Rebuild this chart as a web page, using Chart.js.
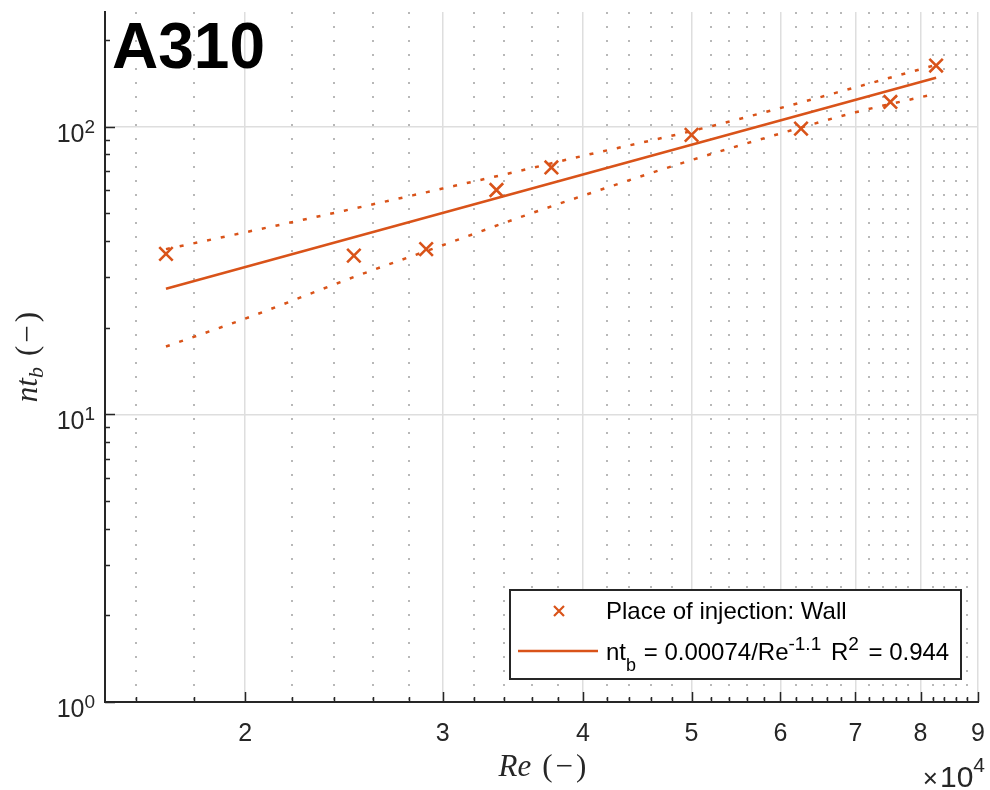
<!DOCTYPE html>
<html><head><meta charset="utf-8">
<script src="https://cdn.jsdelivr.net/npm/chart.js@4/dist/chart.umd.min.js"></script>
<style>html,body{margin:0;padding:0;background:#fff}#wrap{width:990px;height:790px;position:relative}</style>
</head><body><div id="wrap"><canvas id="c" width="990" height="790"></canvas></div>
<script>
// ---- data ----
const reValues  = [17000, 25000, 29000, 33500, 37500, 50000, 62600, 75200, 82600];
const ntbValues = [36.1, 35.6, 37.5, 60.2, 72.1, 93.6, 98.4, 121.8, 163];
const fitRe  = [17000, 82600];
const fitNtb = [27.3, 147.8];
const bandRe    = [17000, 20000, 25000, 30000, 35000, 40000, 50000, 60000, 70000, 82600];
const bandUpper = [37.5, 42.9, 51.9, 60.9, 69.9, 79.1, 96.5, 116, 136.9, 163.9];
const bandLower = [17.2, 21.5, 30.0, 38.7, 48.1, 57.5, 76.5, 94.6, 112.1, 130.1];
const xMajorTicks = [20000, 30000, 40000, 50000, 60000, 70000, 80000, 90000];
const xMinorTicks = [16000, 18000, 22000, 24000, 26000, 28000, 32000, 34000, 36000, 38000,
  42000, 44000, 46000, 48000, 52000, 54000, 56000, 58000, 62000, 64000, 66000, 68000,
  72000, 74000, 76000, 78000, 82000, 84000, 86000, 88000];
const yMajorTicks = [1, 10, 100];
const yMinorTicks = [2, 3, 4, 5, 6, 7, 8, 9, 20, 30, 40, 50, 60, 70, 80, 90, 200];
const titleText = 'A310';
const legendMarkerLabel = 'Place of injection: Wall';

const ORANGE = '#D95319';
const AXIS = '#262626';
const SANS = '"Liberation Sans", Arial, Helvetica, sans-serif';
const SERIF = '"Liberation Serif", "Times New Roman", serif';
const xTickValues = xMajorTicks.concat(xMinorTicks).sort((a, b) => a - b);
const isMajorX = v => xMajorTicks.includes(v);
const isMinorTickCtx = c => c.tick && !isMajorX(c.tick.value);

function drawRich(ctx, x, y, parts) {
  let cx = x;
  for (const p of parts) {
    ctx.font = p.font;
    ctx.fillText(p.t, cx, y + (p.dy || 0));
    cx += ctx.measureText(p.t).width + (p.gap || 0);
  }
  return cx - x;
}
function richWidth(ctx, parts) {
  let w = 0;
  for (const p of parts) { ctx.font = p.font; w += ctx.measureText(p.t).width + (p.gap || 0); }
  return w;
}

const decor = {
  id: 'decor',
  afterDraw(chart) {
    const ctx = chart.ctx;
    const xs = chart.scales.x, ys = chart.scales.y;
    const area = chart.chartArea;
    ctx.save();
    // inward tick marks
    ctx.strokeStyle = AXIS; ctx.lineWidth = 1.5;
    ctx.beginPath();
    for (const v of xTickValues) {
      const px = Math.round(xs.getPixelForValue(v)) + 0.5;
      const len = isMajorX(v) ? 10 : 5;
      ctx.moveTo(px, area.bottom); ctx.lineTo(px, area.bottom - len);
    }
    for (const v of yMajorTicks) {
      const py = Math.round(ys.getPixelForValue(v)) + 0.5;
      ctx.moveTo(area.left, py); ctx.lineTo(area.left + 10, py);
    }
    for (const v of yMinorTicks) {
      const py = Math.round(ys.getPixelForValue(v)) + 0.5;
      ctx.moveTo(area.left, py); ctx.lineTo(area.left + 5, py);
    }
    ctx.stroke();

    // y tick labels 10^n
    ctx.fillStyle = AXIS; ctx.textBaseline = 'alphabetic'; ctx.textAlign = 'left';
    for (const v of yMajorTicks) {
      const py = ys.getPixelForValue(v);
      const parts = [{t: '10', font: '25px ' + SANS}, {t: String(Math.round(Math.log10(v))), font: '19px ' + SANS, dy: -9}];
      const w = richWidth(ctx, parts);
      drawRich(ctx, 95 - w, py + 15, parts);
    }

    // x10^4 multiplier
    {
      const parts = [{t: '\u00d7', font: '26px ' + SANS, gap: 2}, {t: '10', font: '30px ' + SANS}, {t: '4', font: '21px ' + SANS, dy: -15}];
      const w = richWidth(ctx, parts);
      drawRich(ctx, 985 - w, 787, parts);
    }

    // x axis label
    {
      const parts = [{t: 'Re', font: 'italic 31px ' + SERIF, gap: 11}, {t: '(', font: '31px ' + SERIF, gap: 3}, {t: '\u2212', font: '31px ' + SERIF, gap: 3}, {t: ')', font: '31px ' + SERIF}];
      const w = richWidth(ctx, parts);
      drawRich(ctx, (area.left + area.right) / 2 - w / 2 + 1, 776, parts);
    }
    // y axis label (rotated)
    {
      ctx.save();
      ctx.translate(37, (area.top + area.bottom) / 2);
      ctx.rotate(-Math.PI / 2);
      const parts = [{t: 'nt', font: 'italic 31px ' + SERIF}, {t: 'b', font: 'italic 22px ' + SERIF, dy: 6, gap: 11}, {t: '(', font: '31px ' + SERIF, gap: 3}, {t: '\u2212', font: '31px ' + SERIF, gap: 3}, {t: ')', font: '31px ' + SERIF}];
      const w = richWidth(ctx, parts);
      drawRich(ctx, -w / 2, 0, parts);
      ctx.restore();
    }

    // panel title
    ctx.fillStyle = '#000';
    ctx.font = 'bold 64px ' + SANS;
    ctx.fillText(titleText, 112, 68);

    // legend
    const lx = 510, ly = 590, lw = 451, lh = 89;
    ctx.fillStyle = '#fff';
    ctx.fillRect(lx, ly, lw, lh);
    ctx.strokeStyle = AXIS; ctx.lineWidth = 2;
    ctx.strokeRect(lx, ly, lw, lh);
    // marker entry
    ctx.strokeStyle = ORANGE; ctx.lineWidth = 2.2;
    ctx.beginPath();
    ctx.moveTo(559 - 5, 611 - 5); ctx.lineTo(559 + 5, 611 + 5);
    ctx.moveTo(559 - 5, 611 + 5); ctx.lineTo(559 + 5, 611 - 5);
    ctx.stroke();
    ctx.fillStyle = '#000';
    ctx.font = '24px ' + SANS;
    ctx.fillText(legendMarkerLabel, 606, 619);
    // line entry
    ctx.strokeStyle = ORANGE; ctx.lineWidth = 2.5;
    ctx.beginPath(); ctx.moveTo(518, 651); ctx.lineTo(598, 651); ctx.stroke();
    ctx.fillStyle = '#000';
    drawRich(ctx, 606, 660, [
      {t: 'nt', font: '24px ' + SANS},
      {t: 'b', font: '18px ' + SANS, dy: 11, gap: 1},
      {t: ' = 0.00074/Re', font: '24px ' + SANS},
      {t: '-1.1', font: '19px ' + SANS, dy: -10, gap: 3},
      {t: ' R', font: '24px ' + SANS},
      {t: '2', font: '19px ' + SANS, dy: -10, gap: 3},
      {t: ' = 0.944', font: '24px ' + SANS}
    ]);
    ctx.restore();
  }
};

new Chart(document.getElementById('c').getContext('2d'), {
  type: 'scatter',
  data: {
    datasets: [
      {
        label: legendMarkerLabel,
        data: reValues.map((x, i) => ({x, y: ntbValues[i]})),
        showLine: false,
        pointStyle: 'crossRot', pointRadius: 9.5, pointHoverRadius: 9.5,
        borderColor: ORANGE, backgroundColor: ORANGE, pointBorderWidth: 2.6
      },
      {
        label: 'fit',
        data: fitRe.map((x, i) => ({x, y: fitNtb[i]})),
        showLine: true, pointRadius: 0, borderColor: ORANGE, borderWidth: 2.5, fill: false
      },
      {
        label: 'upper bound',
        data: bandRe.map((x, i) => ({x, y: bandUpper[i]})),
        showLine: true, pointRadius: 0, borderColor: ORANGE, borderWidth: 2.5, borderDash: [4, 10], fill: false,
        cubicInterpolationMode: 'monotone'
      },
      {
        label: 'lower bound',
        data: bandRe.map((x, i) => ({x, y: bandLower[i]})),
        showLine: true, pointRadius: 0, borderColor: ORANGE, borderWidth: 2.5, borderDash: [4, 10], fill: false,
        cubicInterpolationMode: 'monotone'
      }
    ]
  },
  options: {
    responsive: false, animation: false, devicePixelRatio: 1,
    layout: {padding: {left: 0, right: 7, top: 9, bottom: 0}},
    plugins: {legend: {display: false}, tooltip: {enabled: false}},
    scales: {
      x: {
        type: 'logarithmic', position: 'bottom', min: 15000, max: 90000,
        afterBuildTicks: s => { s.ticks = xTickValues.map(v => ({value: v})); },
        afterFit: s => { s.height = 88; s.paddingLeft = 0; s.paddingRight = 0; },
        ticks: {
          autoSkip: false, maxRotation: 0, minRotation: 0, padding: 17, color: AXIS,
          font: {family: SANS, size: 25},
          callback: v => isMajorX(v) ? String(v / 10000) : ''
        },
        grid: {
          drawTicks: false,
          color: c => isMinorTickCtx(c) ? '#b8b8b8' : '#dedede',
          lineWidth: c => isMinorTickCtx(c) ? 2 : 1.5
        },
        border: {color: AXIS, width: 2, dash: c => isMinorTickCtx(c) ? [2, 12] : []}
      },
      y: {
        type: 'logarithmic', position: 'left', min: 1, max: 250,
        afterBuildTicks: s => { s.ticks = yMajorTicks.map(v => ({value: v})); },
        afterFit: s => { s.width = 105; s.paddingTop = 0; s.paddingBottom = 0; },
        ticks: {display: false},
        grid: {drawTicks: false, color: '#dedede', lineWidth: 1.5},
        border: {color: AXIS, width: 2}
      }
    }
  },
  plugins: [decor]
});
</script>
</body></html>
